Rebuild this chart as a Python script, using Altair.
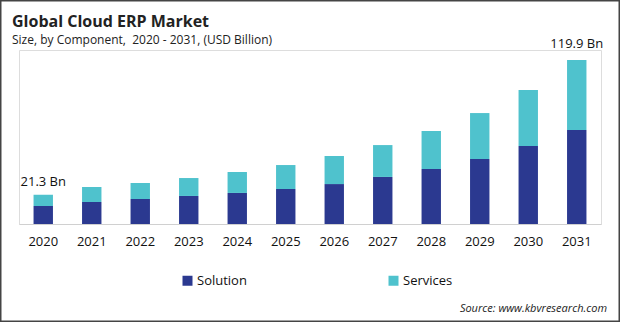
import altair as alt
import pandas as pd

years = ["2020", "2021", "2022", "2023", "2024", "2025", "2026", "2027", "2028", "2029", "2030", "2031"]
solution = [13.2, 16.1, 18.3, 20.5, 22.7, 25.6, 29.2, 34.4, 40.2, 47.5, 57.0, 68.7]
services = [8.1, 10.9, 11.7, 13.1, 15.3, 17.5, 20.5, 23.3, 27.8, 33.6, 41.0, 51.2]
segments = ["Solution", "Services"]
colors = ["#2b3990", "#4fc2cd"]
first_label = {"year": ["2020"], "text": ["21.3 Bn"], "value": [21.3]}
last_label = {"year": ["2031"], "text": ["119.9 Bn"], "value": [119.9]}

rows = []
for i, y in enumerate(years):
    rows.append({"year": y, "segment": "Solution", "value": solution[i], "ord": 0})
    rows.append({"year": y, "segment": "Services", "value": services[i], "ord": 1})
df = pd.DataFrame(rows)

W, H = 582, 174
FONT = "Open Sans"

x = alt.X("year:N", sort=years, title=None,
          scale=alt.Scale(paddingInner=0.6, paddingOuter=0.3),
          axis=alt.Axis(labelAngle=0, labelFontSize=13, labelColor="#111", labelFont=FONT,
                        ticks=False, labelPadding=11, domainColor="#d0d0d0", domainWidth=1))
y = alt.Y("value:Q", stack="zero", title=None,
          scale=alt.Scale(domain=[0, 127.2], nice=False),
          axis=None)

bars = alt.Chart(df).mark_bar().encode(
    x=x, y=y,
    color=alt.Color("segment:N", scale=alt.Scale(domain=segments, range=colors),
                    legend=alt.Legend(title=None, orient="none", legendX=162, legendY=224,
                                      direction="horizontal", symbolType="square", symbolSize=100,
                                      symbolStrokeWidth=0, labelFontSize=13, labelFont=FONT,
                                      labelColor="#111", columnPadding=140, symbolOffset=0,
                                      labelOffset=3)),
    order=alt.Order("ord:Q"),
)

lab1 = alt.Chart(pd.DataFrame(first_label)).mark_text(dy=-6, fontSize=13, font=FONT, color="#111",
                                                      baseline="bottom").encode(
    x=alt.X("year:N", sort=years), y=alt.Y("value:Q"), text="text:N")
lab2 = alt.Chart(pd.DataFrame(last_label)).mark_text(dy=-9, fontSize=13, font=FONT, color="#111",
                                                     baseline="bottom").encode(
    x=alt.X("year:N", sort=years), y=alt.Y("value:Q"), text="text:N")

title = alt.Chart(pd.DataFrame({"t": ["Global Cloud ERP Market"]})).mark_text(
    align="left", baseline="alphabetic", fontSize=16, fontWeight="bold",
    font=FONT, color="#222").encode(x=alt.value(-7), y=alt.value(-23), text="t:N")
sub = alt.Chart(pd.DataFrame({"t": ["Size, by Component,\u00a0 2020 - 2031, (USD Billion)"]})).mark_text(
    align="left", baseline="alphabetic", fontSize=12, font=FONT, color="#222").encode(
    x=alt.value(-7), y=alt.value(-6), text="t:N")
src = alt.Chart(pd.DataFrame({"t": ["Source: www.kbvresearch.com"]})).mark_text(
    align="right", baseline="alphabetic", fontSize=11, fontStyle="italic", font=FONT, color="#222").encode(
    x=alt.value(588), y=alt.value(262), text="t:N")
border = alt.Chart(pd.DataFrame({"a": [0]})).mark_rect(filled=False, stroke="#444", strokeWidth=1.5).encode(
    x=alt.value(-18.25), x2=alt.value(600.25), y=alt.value(-49.25), y2=alt.value(271.25))

chart = alt.layer(bars, lab1, lab2, title, sub, src, border).properties(
    width=W, height=H,
    padding={"left": 19, "top": 50, "right": 19, "bottom": 98},
    autosize=alt.AutoSizeParams(type="none"),
).configure_view(stroke=None).configure(background="white")

chart.save("out.html", embed_options={"renderer": "svg", "actions": False})
